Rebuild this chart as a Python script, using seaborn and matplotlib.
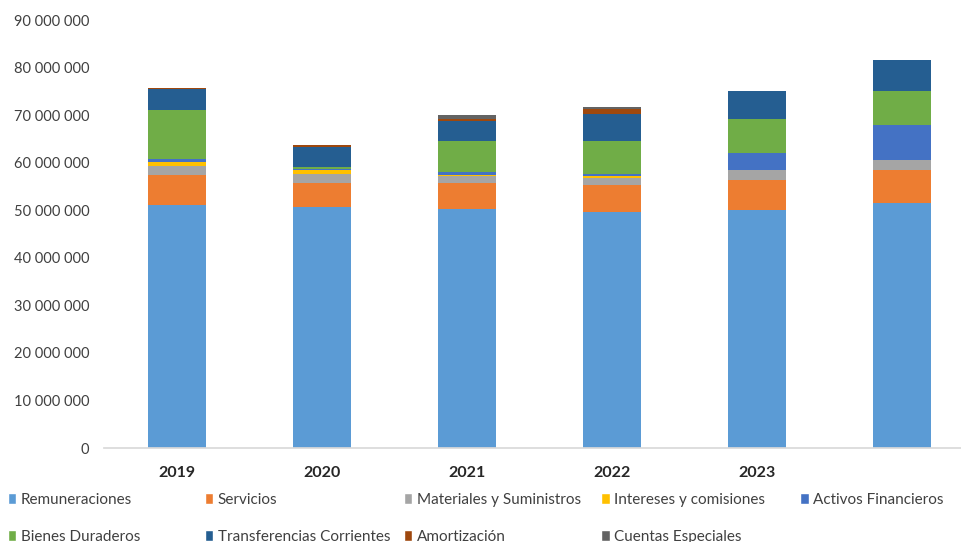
import numpy as np
import pandas as pd
import matplotlib
matplotlib.use("Agg")
import matplotlib.pyplot as plt
import seaborn as sns
from matplotlib.patches import Patch

# Categories (last bar has no label in the original)
years = ["2019", "2020", "2021", "2022", "2023", " "]

# Series values (millions)
remuneraciones = [51.1, 50.6, 50.25, 49.56, 50.04, 51.51]
servicios = [6.3, 5.05, 5.4, 5.8, 6.37, 6.94]
materiales = [2.0, 2.0, 1.53, 1.47, 2.04, 2.04]
intereses = [0.85, 0.72, 0.27, 0.42, 0.0, 0.0]
activos = [0.5, 0.27, 0.5, 0.42, 3.51, 7.36]
bienes = [10.3, 0.36, 6.58, 6.88, 7.15, 7.15]
transferencias = [4.4, 4.2, 4.2, 5.61, 5.89, 6.58]
amortizacion = [0.3, 0.55, 0.42, 1.12, 0.0, 0.0]
cuentas = [0.0, 0.0, 0.78, 0.36, 0.0, 0.0]

series_names = ["Remuneraciones", "Servicios", "Materiales y Suministros",
                "Intereses y comisiones", "Activos Financieros", "Bienes Duraderos",
                "Transferencias Corrientes", "Amortización", "Cuentas Especiales"]
series_vals = [remuneraciones, servicios, materiales, intereses, activos,
               bienes, transferencias, amortizacion, cuentas]
colors = ["#5B9BD5", "#ED7D31", "#A5A5A5", "#FFC000", "#4472C4",
          "#70AD47", "#255E91", "#9E480E", "#636363"]

sns.set_theme(style="white")
plt.rcParams["font.family"] = ["Lato", "DejaVu Sans"]

fig = plt.figure(figsize=(9.62, 5.42), dpi=100)
ax = fig.add_axes([0.1086, 0.1734, 0.904, 0.7896])

# cumulative stacks, drawn from the top down so each layer overlays the previous
vals = np.array(series_vals) * 1e6
cum = np.cumsum(vals, axis=0)
for i in range(len(series_names) - 1, -1, -1):
    df = pd.DataFrame({"year": years, "value": cum[i]})
    sns.barplot(data=df, x="year", y="value", order=years, color=colors[i],
                saturation=1, width=0.4, ax=ax, edgecolor="none")

ax.set_ylim(0, 90e6)
ax.set_xlim(-0.5, 5.5)
yt = np.arange(0, 90e6 + 1, 10e6)
ax.set_yticks(yt)
ax.set_yticklabels([f"{int(v):,}".replace(",", " ") for v in yt],
                   fontsize=10.5, color="#404040")
ax.set_xticks(range(len(years)))
ax.set_xticklabels(years, fontsize=11.5, fontweight="bold", color="#262626")
ax.tick_params(axis="y", length=0, pad=11)
ax.tick_params(axis="x", length=0, pad=13)
ax.set_xlabel("")
ax.set_ylabel("")
for s in ["top", "right", "left"]:
    ax.spines[s].set_visible(False)
ax.spines["bottom"].set_color("#d9d9d9")

# legend laid out in fixed-width columns, like the original
col_x = [0.008, 0.213, 0.42, 0.625, 0.832]
cols = [[0, 5], [1, 6], [2, 7], [3, 8], [4]]
for cx, idx in zip(col_x, cols):
    handles = [Patch(facecolor=colors[k], label=series_names[k]) for k in idx]
    fig.legend(handles=handles, loc="upper left", bbox_to_anchor=(cx, 0.091),
               frameon=False, fontsize=11, handlelength=0.55, handleheight=0.7,
               handletextpad=0.3, labelspacing=1.5, borderaxespad=0, borderpad=0,
               labelcolor="#404040")

fig.savefig("out.png", dpi=100)
